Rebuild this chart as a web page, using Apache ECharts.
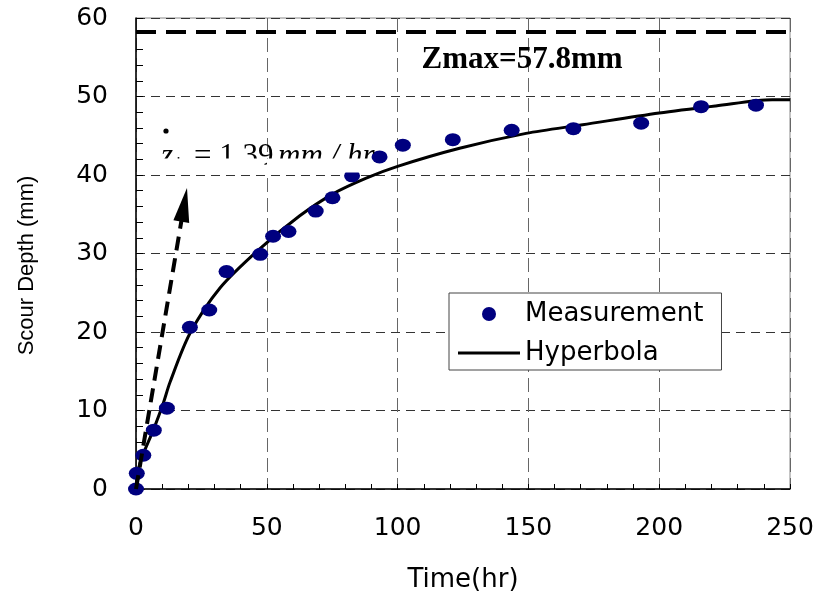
<!DOCTYPE html>
<html>
<head>
<meta charset="utf-8">
<script src="https://cdn.jsdelivr.net/npm/echarts@6/dist/echarts.min.js"></script>
<style>html,body{margin:0;padding:0;background:#fff}#c{width:819px;height:599px}</style>
</head>
<body>
<div id="c"></div>
<script>
// Measurement points (time in hr, scour depth in mm)
var measTime = [0, 0.3, 2.8, 6.8, 11.8, 20.6, 28.0, 34.6, 47.5, 52.4, 58.3, 68.7, 75.1, 82.6, 93.1, 102, 121.1, 143.6, 167.2, 193.1, 216, 237];
var measDepth = [0, 2.0, 4.3, 7.5, 10.3, 20.6, 22.8, 27.7, 29.9, 32.2, 32.8, 35.4, 37.1, 39.9, 42.3, 43.8, 44.5, 45.7, 45.9, 46.6, 48.7, 48.9];
// Hyperbola curve
var hypTime = [0, 1.5, 6.6, 10.4, 13, 20.6, 32.1, 47.3, 62.6, 75.3, 88, 100, 123.7, 149.1, 170.7, 200, 221.6, 243.2, 250];
var hypDepth = [0, 3.3, 7.5, 10.9, 13.6, 19.8, 25.6, 30.6, 34.8, 37.6, 39.6, 41.1, 43.4, 45.3, 46.4, 47.9, 48.8, 49.6, 49.6];
// Annotations
var zmaxLevel = 58.2;
var zmaxLabel = 'Zmax=57.8mm';
var arrowStart = [0, 0];
var arrowEnd = [18.4, 36.2];
var xTicks = [0, 250, 50];
var yTicks = [0, 60, 10];

var measData = measTime.map(function (t, i) { return [t, measDepth[i]]; });
var hypData = hypTime.map(function (t, i) { return [t, hypDepth[i]]; });

var chart = echarts.init(document.getElementById('c'), null, {renderer: 'canvas'});
var tickFont = {fontFamily: 'DejaVu Sans', fontSize: 25, color: '#000'};

chart.setOption({
  backgroundColor: '#fff',
  animation: false,
  grid: {left: 136, right: 29, top: 18, bottom: 110, show: true, borderColor: '#888', borderWidth: 1, backgroundColor: 'transparent'},
  xAxis: {
    type: 'value', min: xTicks[0], max: xTicks[1], interval: xTicks[2],
    name: 'Time(hr)', nameLocation: 'middle', nameGap: 78,
    nameTextStyle: {fontFamily: 'DejaVu Sans', fontSize: 26, color: '#000'},
    axisLine: {show: true, lineStyle: {color: '#000', width: 1.5}},
    axisTick: {show: true, inside: true, length: 5, lineStyle: {color: '#000'}},
    minorTick: {show: true, splitNumber: 5, length: 5, lineStyle: {color: '#000'}},
    axisLabel: Object.assign({margin: 27}, tickFont),
    splitLine: {show: true, lineStyle: {color: '#666', width: 1, type: [14, 6]}}
  },
  yAxis: {
    type: 'value', min: yTicks[0], max: yTicks[1], interval: yTicks[2],
    name: 'Scour Depth (mm)', nameLocation: 'middle', nameGap: 98,
    nameTextStyle: {fontFamily: 'Liberation Sans', fontSize: 22, color: '#000', padding: [0, 24, 0, 0]},
    axisLine: {show: true, lineStyle: {color: '#000', width: 1.5}},
    axisTick: {show: true, inside: true, length: 7, lineStyle: {color: '#000'}},
    minorTick: {show: true, splitNumber: 5, length: 7, lineStyle: {color: '#000'}},
    axisLabel: Object.assign({margin: 28}, tickFont),
    splitLine: {show: true, lineStyle: {color: '#333', width: 1, type: [9, 6]}}
  },
  legend: {
    orient: 'vertical', left: 449, top: 293,
    backgroundColor: '#fff', borderColor: '#444', borderWidth: 1,
    padding: [8, 18, 4, 9], itemGap: 13, itemWidth: 62, itemHeight: 14,
    textStyle: {fontFamily: 'DejaVu Sans', fontSize: 26, color: '#000'},
    data: [
      {name: 'Measurement', icon: 'circle'},
      {name: 'Hyperbola', icon: 'path://M0,0L62,0L62,3L0,3Z', itemStyle: {color: '#000'}}
    ]
  },
  series: [
    {
      name: 'Hyperbola', type: 'line', data: hypData, symbol: 'none', smooth: 0.3,
      lineStyle: {color: '#000', width: 3}, itemStyle: {color: '#000'}, z: 3
    },
    {
      name: 'Measurement', type: 'scatter', data: measData, symbol: 'circle', symbolSize: [16, 13],
      itemStyle: {color: '#00007f', opacity: 1}, z: 4,
      markLine: {
        silent: true, animation: false, precision: 2,
        symbol: ['none', 'none'],
        label: {show: false},
        data: [
          {yAxis: zmaxLevel, lineStyle: {color: '#000', width: 4, type: [20, 10]}},
          [
            {coord: arrowStart, lineStyle: {color: '#000', width: 4, type: [14, 8]}},
            {coord: arrowEnd, symbol: 'triangle', symbolSize: [16, 34]}
          ]
        ]
      }
    }
  ],
  graphic: [
    {type: 'text', z: 50, x: 522, y: 60, style: {text: zmaxLabel, fontFamily: 'Liberation Serif', fontWeight: 'bold', fontSize: 31, fill: '#000', align: 'center', verticalAlign: 'middle'}},
    {type: 'circle', z: 50, shape: {cx: 166, cy: 131, r: 2.6}, style: {fill: '#000'}},
    {type: 'text', z: 50, x: 161, y: 157, style: {text: 'z', fontFamily: 'Liberation Serif', fontStyle: 'italic', fontSize: 31, fill: '#000', verticalAlign: 'middle'}},
    {type: 'text', z: 50, x: 175, y: 165, style: {text: 'i', fontFamily: 'Liberation Serif', fontStyle: 'italic', fontSize: 18, fill: '#000', verticalAlign: 'middle'}},
    {type: 'text', z: 50, x: 194, y: 157, style: {text: '= 1.39', fontFamily: 'Liberation Serif', fontSize: 31, fill: '#000', verticalAlign: 'middle'}},
    {type: 'text', z: 50, x: 278, y: 157, style: {text: 'mm / hr', fontFamily: 'Liberation Serif', fontStyle: 'italic', fontSize: 31, fill: '#000', verticalAlign: 'middle'}},
    {type: 'rect', z: 60, shape: {x: 150, y: 158.5, width: 114.5, height: 14}, style: {fill: '#fff'}},
    {type: 'rect', z: 60, shape: {x: 267, y: 158.5, width: 104, height: 14}, style: {fill: '#fff'}}
  ]
});
</script>
</body>
</html>
